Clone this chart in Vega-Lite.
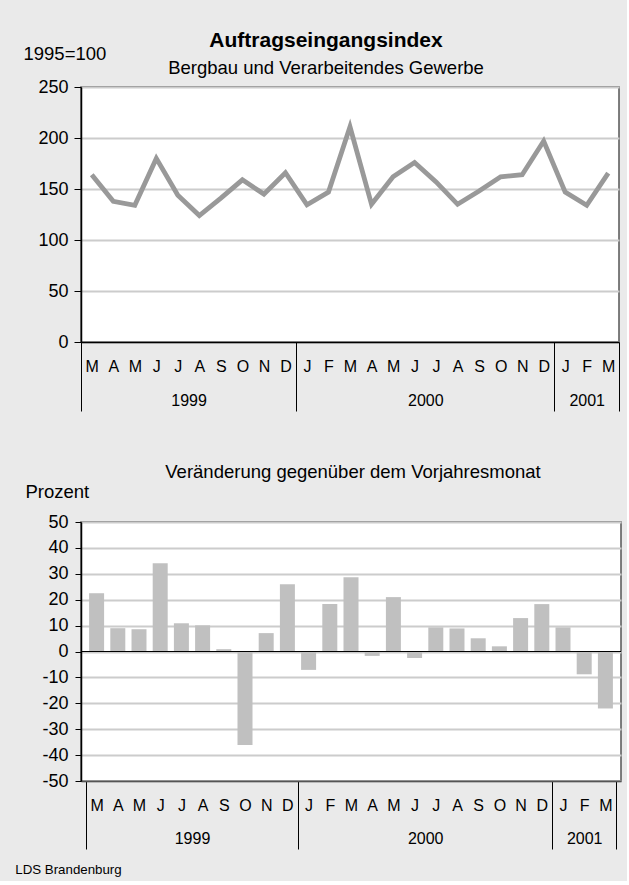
{
  "$schema": "https://vega.github.io/schema/vega-lite/v6.json",
  "background": "#eaeaea",
  "padding": {"left": 15, "top": 28, "right": 4, "bottom": 4},
  "title": {"text": "LDS Brandenburg", "orient": "bottom", "anchor": "start", "frame": "bounds", "fontSize": 13.3, "fontWeight": "normal", "color": "black", "dx": -7, "offset": 13},
  "data": {"values": [
    {"n": 0, "monat": "1999-03", "index": 164, "veraenderung": 22.5},
    {"n": 1, "monat": "1999-04", "index": 138, "veraenderung": 9.0},
    {"n": 2, "monat": "1999-05", "index": 134, "veraenderung": 8.6},
    {"n": 3, "monat": "1999-06", "index": 180, "veraenderung": 34.1},
    {"n": 4, "monat": "1999-07", "index": 144, "veraenderung": 10.9},
    {"n": 5, "monat": "1999-08", "index": 124, "veraenderung": 10.1},
    {"n": 6, "monat": "1999-09", "index": 141, "veraenderung": 0.9},
    {"n": 7, "monat": "1999-10", "index": 159, "veraenderung": -36.1},
    {"n": 8, "monat": "1999-11", "index": 145, "veraenderung": 7.1},
    {"n": 9, "monat": "1999-12", "index": 166, "veraenderung": 26.0},
    {"n": 10, "monat": "2000-01", "index": 134.5, "veraenderung": -7.1},
    {"n": 11, "monat": "2000-02", "index": 147, "veraenderung": 18.3},
    {"n": 12, "monat": "2000-03", "index": 211, "veraenderung": 28.7},
    {"n": 13, "monat": "2000-04", "index": 135, "veraenderung": -1.7},
    {"n": 14, "monat": "2000-05", "index": 162, "veraenderung": 21.0},
    {"n": 15, "monat": "2000-06", "index": 176, "veraenderung": -2.5},
    {"n": 16, "monat": "2000-07", "index": 157, "veraenderung": 9.3},
    {"n": 17, "monat": "2000-08", "index": 135, "veraenderung": 8.9},
    {"n": 18, "monat": "2000-09", "index": 148, "veraenderung": 5.1},
    {"n": 19, "monat": "2000-10", "index": 162, "veraenderung": 2.0},
    {"n": 20, "monat": "2000-11", "index": 164, "veraenderung": 12.9},
    {"n": 21, "monat": "2000-12", "index": 197, "veraenderung": 18.3},
    {"n": 22, "monat": "2001-01", "index": 147, "veraenderung": 9.3},
    {"n": 23, "monat": "2001-02", "index": 134, "veraenderung": -8.8},
    {"n": 24, "monat": "2001-03", "index": 165.5, "veraenderung": -22.0}
  ]},
  "spacing": 48,
  "vconcat": [
    {
      "width": 538,
      "height": 255,
      "title": {"text": "Auftragseingangsindex", "subtitle": "Bergbau und Verarbeitendes Gewerbe", "fontSize": 21, "fontWeight": "bold", "color": "black", "subtitleFontSize": 18.5, "subtitleColor": "black", "subtitlePadding": 8, "anchor": "middle", "frame": "group", "dx": -24, "offset": -33},
      "layer": [
        {
          "mark": {"type": "line", "color": "#999999", "strokeWidth": 4.8, "strokeJoin": "miter"},
          "encoding": {
            "x": {"field": "n", "type": "quantitative",
              "scale": {"domain": [-0.5, 24.5], "nice": false, "zero": false},
              "axis": {"title": null, "grid": false, "tickCount": 50,
                "values": [-0.5, 0, 1, 2, 3, 4, 4.5, 5, 6, 7, 8, 9, 9.5, 10, 11, 12, 13, 14, 15, 15.5, 16, 17, 18, 19, 20, 21, 21.5, 22, 23, 24, 24.5],
                "labelExpr": "datum.value == 4.5 ? ['', '1999'] : datum.value == 15.5 ? ['', '2000'] : datum.value == 23 ? ['F', '2001'] : (datum.value % 1 != 0) ? '' : ['M','A','M','J','J','A','S','O','N','D','J','F','M','A','M','J','J','A','S','O','N','D','J','F','M'][datum.value]",
                "tickOpacity": {"condition": {"test": "datum.value == -0.5 || datum.value == 9.5 || datum.value == 21.5 || datum.value == 24.5", "value": 1}, "value": 0},
                "tickSize": 69, "tickColor": "black", "domainColor": "black",
                "labelPadding": -53, "labelFontSize": 16, "labelLineHeight": 34.5,
                "labelFlush": false, "labelOverlap": false, "labelBound": false}
            },
            "y": {"field": "index", "type": "quantitative",
              "scale": {"domain": [0, 250], "nice": false},
              "axis": {"values": [0, 50, 100, 150, 200, 250], "tickCount": 20, "labelOverlap": false, "title": "1995=100", "titleAngle": 0, "titleAlign": "left", "titleBaseline": "middle", "titleX": -58, "titleY": -34, "tickSize": 7, "labelPadding": 6, "grid": true}
            }
          }
        }
      ]
    },
    {
      "width": 540,
      "height": 259,
      "title": {"text": "Veränderung gegenüber dem Vorjahresmonat", "fontSize": 18.5, "fontWeight": "normal", "color": "black", "anchor": "middle", "frame": "group", "dx": 2, "offset": 1},
      "layer": [
        {
          "mark": {"type": "bar", "color": "#c0c0c0", "size": 15, "orient": "vertical"},
          "encoding": {
            "x": {"field": "n", "type": "quantitative",
              "scale": {"domain": [-0.5, 24.5], "nice": false, "zero": false},
              "axis": {"title": null, "grid": false, "tickCount": 50,
                "values": [-0.5, 0, 1, 2, 3, 4, 4.5, 5, 6, 7, 8, 9, 9.5, 10, 11, 12, 13, 14, 15, 15.5, 16, 17, 18, 19, 20, 21, 21.5, 22, 23, 24, 24.5],
                "labelExpr": "datum.value == 4.5 ? ['', '1999'] : datum.value == 15.5 ? ['', '2000'] : datum.value == 23 ? ['F', '2001'] : (datum.value % 1 != 0) ? '' : ['M','A','M','J','J','A','S','O','N','D','J','F','M','A','M','J','J','A','S','O','N','D','J','F','M'][datum.value]",
                "tickOpacity": {"condition": {"test": "datum.value == -0.5 || datum.value == 9.5 || datum.value == 21.5 || datum.value == 24.5", "value": 1}, "value": 0},
                "tickSize": 68, "tickColor": "black", "domainColor": "#555555",
                "labelPadding": -52, "labelFontSize": 16, "labelLineHeight": 33,
                "labelFlush": false, "labelOverlap": false, "labelBound": false}
            },
            "y": {"field": "veraenderung", "type": "quantitative",
              "scale": {"domain": [-50, 50], "nice": false},
              "axis": {"values": [-50, -40, -30, -20, -10, 0, 10, 20, 30, 40, 50], "tickCount": 20, "labelExpr": "'' + datum.value", "labelOverlap": false, "title": "Prozent", "titleAngle": 0, "titleAlign": "left", "titleBaseline": "middle", "titleX": -56, "titleY": -31, "tickSize": 6, "labelPadding": 7, "grid": true}
            }
          }
        },
        {
          "mark": {"type": "rule", "color": "black", "strokeWidth": 1},
          "encoding": {"y": {"datum": 0}}
        }
      ]
    }
  ],
  "config": {
    "font": "Liberation Sans",
    "view": {"fill": "white", "stroke": "#555555", "strokeWidth": 1.5},
    "axis": {"labelFont": "Liberation Sans", "titleFont": "Liberation Sans", "labelColor": "black", "titleColor": "black", "domainColor": "black", "tickColor": "black", "labelFontSize": 18, "titleFontSize": 18.5, "titleFontWeight": "normal", "domainWidth": 1.5, "gridColor": "#cccccc", "gridWidth": 2},
    "title": {"font": "Liberation Sans", "subtitleFont": "Liberation Sans"}
  }
}
